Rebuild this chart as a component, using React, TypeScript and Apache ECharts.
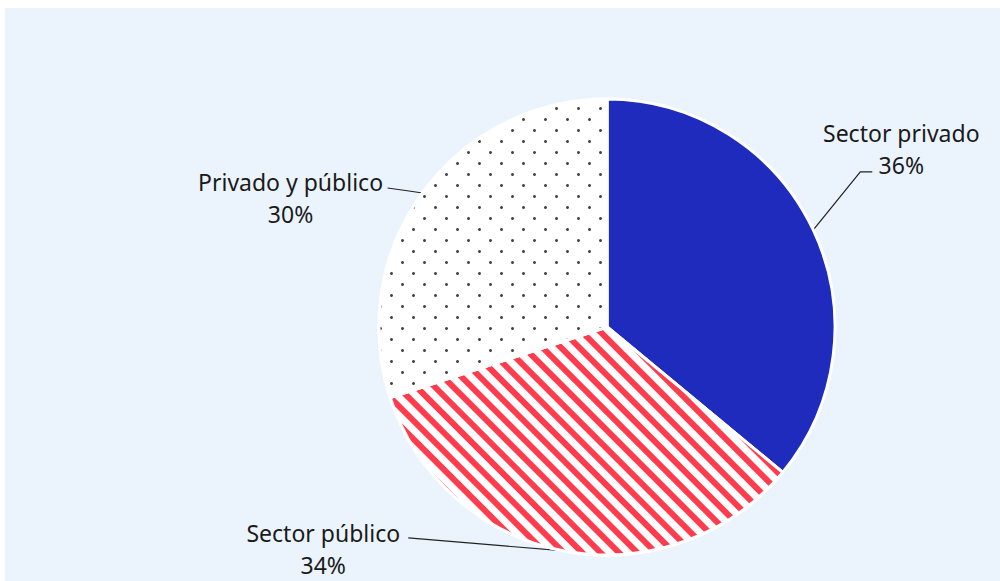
import React, { useEffect, useRef } from "react";
import * as echarts from "echarts";

const categories = ["Sector privado", "Sector público", "Privado y público"];
const shares = [36, 34, 30];

export default function App() {
  const ref = useRef<HTMLDivElement>(null);
  useEffect(() => {
    const chart = echarts.init(ref.current!, null, { renderer: "svg" });
    const cx = 602;
    const cy = 319;
    const r = 228;
    const total = shares.reduce((a, b) => a + b, 0);
    const mids: number[] = [];
    let acc = 0;
    shares.forEach((v) => {
      const start = 90 - (acc / total) * 360;
      acc += v;
      const end = 90 - (acc / total) * 360;
      mids.push((start + end) / 2);
    });
    const edge = (i: number) => {
      const a = (mids[i] * Math.PI) / 180;
      return [cx + r * Math.cos(a), cy - r * Math.sin(a)];
    };
    const layouts = [
      { label: [88, -81], line: [[47, -58], [59, -58]] },
      { label: [-241, -2], line: [[-78, -6.5], [-156, -13]] },
      { label: [-132, 5], line: [[-17, -2.5], [-35, -5]] },
    ];

    chart.setOption({
      animation: false,
      backgroundColor: "#EBF4FD",
      series: [
        {
          type: "pie",
          center: [cx, cy],
          radius: r,
          startAngle: 90,
          clockwise: true,
          silent: true,
          itemStyle: { borderColor: "#ffffff", borderWidth: 3 },
          label: {
            show: true,
            formatter: (p: any) => `${p.name}\n${p.value}%`,
            fontFamily: "Noto Sans",
            fontSize: 23,
            lineHeight: 32,
            color: "#1a1a1a",
            align: "center",
            overflow: "none",
          },
          labelLine: {
            show: true,
            lineStyle: { color: "#222222", width: 1.2 },
          },
          labelLayout: (params: any) => {
            const i = params.dataIndex;
            const e = edge(i);
            const L = layouts[i];
            return {
              x: e[0] + L.label[0],
              y: e[1] + L.label[1],
              width: 240,
              align: "center",
              verticalAlign: "middle",
              labelLinePoints: [
                [e[0], e[1]],
                [e[0] + L.line[0][0], e[1] + L.line[0][1]],
                [e[0] + L.line[1][0], e[1] + L.line[1][1]],
              ],
            };
          },
          data: [
            {
              name: categories[0],
              value: shares[0],
              itemStyle: { color: "#1E2BBC" },
            },
            {
              name: categories[1],
              value: shares[1],
              itemStyle: {
                color: "#ffffff",
                decal: {
                  symbol: "rect",
                  symbolSize: 1,
                  dashArrayX: [1, 0],
                  dashArrayY: [6, 7],
                  rotation: Math.PI / 4,
                  color: "#FF3B4E",
                },
              },
            },
            {
              name: categories[2],
              value: shares[2],
              itemStyle: {
                color: "#ffffff",
                decal: {
                  symbol: "circle",
                  symbolSize: 1,
                  dashArrayX: [[3, 19], [0, 11, 3, 8]],
                  dashArrayY: [3, 8],
                  color: "#444444",
                },
              },
            },
          ],
        },
      ],
    });
    return () => chart.dispose();
  }, []);
  return (
    <div
      ref={ref}
      style={{ position: "absolute", left: 5, top: 8, width: 995, height: 573 }}
    />
  );
}
